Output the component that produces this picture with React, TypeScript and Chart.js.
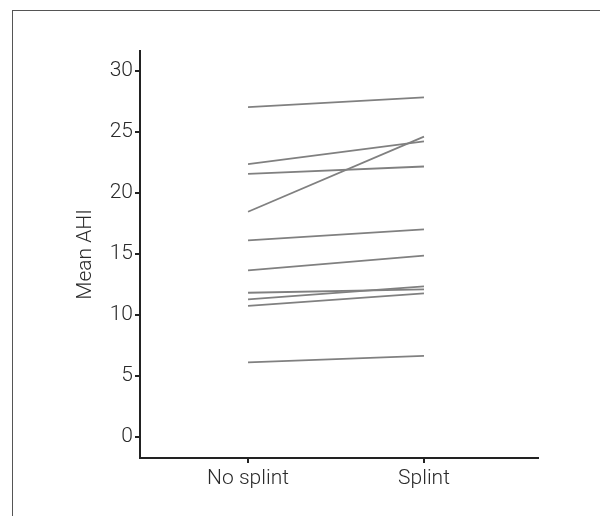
import React, { useEffect, useRef } from "react";
import { Chart, registerables } from "chart.js";

Chart.register(...registerables);

const categories = ["No splint", "Splint"];
const noSplint = [27.0, 22.35, 21.55, 18.45, 16.1, 13.65, 11.82, 11.28, 10.74, 6.13];
const splint = [27.8, 24.2, 22.15, 24.6, 17.0, 14.85, 12.1, 12.35, 11.77, 6.65];
const yTicks = [0, 5, 10, 15, 20, 25, 30];
const yTitle = "Mean AHI";

const FONT = "Roboto, 'Liberation Sans', Arial, sans-serif";

export default function App() {
  const ref = useRef<HTMLCanvasElement | null>(null);

  useEffect(() => {
    if (!ref.current) return;
    const datasets = noSplint.map((v, i) => ({
      label: "S" + (i + 1),
      data: [
        { x: 1, y: v },
        { x: 2, y: splint[i] },
      ],
      borderColor: "#808080",
      borderWidth: 1.8,
      pointRadius: 0,
      fill: false,
    }));
    const chart = new Chart(ref.current, {
      type: "line",
      data: { datasets },
      options: {
        animation: false,
        responsive: false,
        maintainAspectRatio: false,
        layout: { padding: { left: 0, right: 62, top: 51, bottom: 0 } },
        plugins: { legend: { display: false }, tooltip: { enabled: false } },
        scales: {
          x: {
            type: "linear",
            min: 0.386,
            max: 2.648,
            afterBuildTicks: (s: any) => {
              s.ticks = categories.map((_, i) => ({ value: i + 1 }));
            },
            afterFit: (s: any) => {
              s.height = 58;
            },
            ticks: {
              callback: (v: any) => categories[Math.round(Number(v)) - 1] ?? "",
              color: "#2a2a2a",
              font: { family: FONT, size: 21, weight: "300" as any },
              padding: 3,
              maxRotation: 0,
              autoSkip: false,
            },
            grid: {
              drawOnChartArea: false,
              drawTicks: true,
              tickLength: 5,
              color: "#222",
              lineWidth: 2,
            },
            border: { display: true, color: "#222", width: 2 },
          },
          y: {
            type: "linear",
            min: -1.7,
            max: 31.6,
            afterBuildTicks: (s: any) => {
              s.ticks = yTicks.map((v) => ({ value: v }));
            },
            afterFit: (s: any) => {
              s.width = 140;
            },
            ticks: {
              color: "#2a2a2a",
              font: { family: FONT, size: 21, weight: "300" as any },
              padding: 2,
            },
            grid: {
              drawOnChartArea: false,
              drawTicks: true,
              tickLength: 5,
              color: "#222",
              lineWidth: 2,
            },
            border: { display: true, color: "#222", width: 2 },
            title: {
              display: true,
              text: yTitle,
              color: "#2a2a2a",
              font: { family: FONT, size: 21, weight: "300" as any },
              padding: { top: 73, bottom: 0 },
            },
          },
        },
      },
    });
    return () => chart.destroy();
  }, []);

  return (
    <div style={{ position: "fixed", left: 0, top: 0, width: 600, height: 516, background: "#fff", overflow: "hidden" }}>
      <div
        style={{
          position: "absolute",
          left: 12,
          top: 10,
          width: 620,
          height: 540,
          border: "1px solid #555",
        }}
      />
      <canvas ref={ref} width={600} height={516} style={{ position: "absolute", left: 0, top: 0 }} />
    </div>
  );
}
